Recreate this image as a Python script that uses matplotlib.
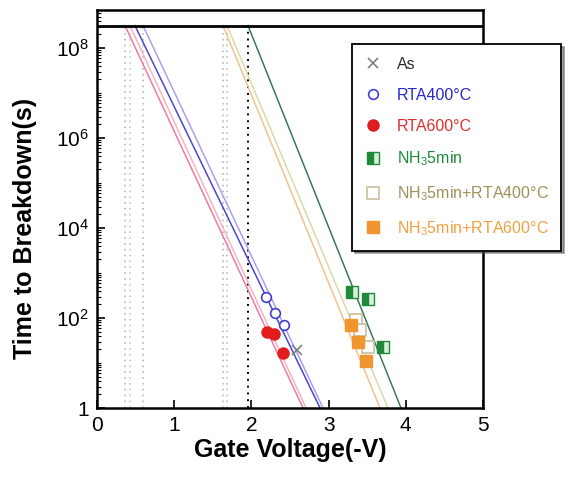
import matplotlib
matplotlib.use('Agg')
import matplotlib.pyplot as plt
import matplotlib.ticker as mticker
import numpy as np

plt.rcParams['font.family'] = ['Liberation Sans', 'DejaVu Sans']
plt.rcParams['mathtext.fontset'] = 'custom'
plt.rcParams['mathtext.rm'] = 'Liberation Sans'
plt.rcParams['mathtext.it'] = 'Liberation Sans'
plt.rcParams['mathtext.bf'] = 'Liberation Sans:bold'

# measured points (gate voltage -V, time to breakdown s)
as_v = [2.59]
as_t = [19]
rta400_v = [2.19, 2.31, 2.42]
rta400_t = [295, 129, 70]
rta600_v = [2.20, 2.29, 2.41]
rta600_t = [49, 44, 17]
nh3_v = [3.30, 3.51, 3.70]
nh3_t = [380, 265, 23]
nh3_400_v = [3.36, 3.41, 3.51]
nh3_400_t = [90, 55, 23]
nh3_600_v = [3.29, 3.38, 3.48]
nh3_600_t = [70, 29, 11]

# fit lines: voltage at 10 years and at 1 s
ten_years = 3.15e8
fit_names = ['RTA600', 'RTA600b', 'RTA400', 'As', 'NH3+600', 'NH3+400', 'NH3']
fit_v_10y = [0.363, 0.427, 0.492, 0.596, 1.632, 1.684, 1.956]
fit_v_1s = [2.668, 2.707, 2.889, 2.927, 3.666, 3.769, 3.938]
fit_colors = ['#f07aa0', '#f4b4c4', '#4848d0', '#a8a0f0', '#f5c090', '#dcd8a8', '#3a7a5a']
drop_colors = ['#b8b8b8', '#c8c8c8', None, '#b8b8b8', '#b8b8b8', '#c0c0c0', '#000000']

fig = plt.figure(figsize=(5.71, 4.79), dpi=100)
ax = fig.add_axes([97/571, 71/479, 386/571, 398/479])

# dotted drops from the 10 year line
for v, c in zip(fit_v_10y, drop_colors):
    if c is None:
        continue
    ax.vlines(v, 1, ten_years, colors=c, linestyles=(0, (1, 2.5)),
              linewidth=1.4 if c == '#000000' else 1.2, zorder=1)

for v0, v1, c in zip(fit_v_10y, fit_v_1s, fit_colors):
    ax.plot([v0, v1], [ten_years, 1], color=c, linewidth=1.1, zorder=2)

ax.axhline(ten_years, color='black', linewidth=2, zorder=3)

ax.plot(as_v, as_t, 'x', color='#808080', markersize=7, mew=1.2, label='As', zorder=4)
ax.plot(rta400_v, rta400_t, 'o', mfc='white', mec='#4040d0', markersize=7, mew=1.2,
        label='RTA400°C', zorder=4)
ax.plot(rta600_v, rta600_t, 'o', color='#e01c1c', markersize=8, label='RTA600°C', zorder=4)
ax.plot(nh3_v, nh3_t, 's', mfc='#1f8a3a', mfcalt='#d8f0d8', fillstyle='left', mec='#1f8a3a',
        markersize=8, label='NH$_3$5min', zorder=4)
ax.plot(nh3_400_v, nh3_400_t, 's', mfc='white', mec='#c8c0a0', markersize=8, mew=1.2,
        label='NH$_3$5min+RTA400°C', zorder=4)
ax.plot(nh3_600_v, nh3_600_t, 's', color='#f0962e', markersize=8,
        label='NH$_3$5min+RTA600°C', zorder=5)

ax.set_yscale('log')
ax.set_xlim(0, 5)
ax.set_ylim(1, 7e8)
ax.yaxis.set_major_locator(mticker.FixedLocator([1, 1e2, 1e4, 1e6, 1e8]))
ax.yaxis.set_major_formatter(mticker.FuncFormatter(
    lambda y, p: '1' if y == 1 else '$10^{%d}$' % round(np.log10(y))))
ax.yaxis.set_minor_locator(mticker.LogLocator(base=10, subs=np.arange(1, 10), numticks=50))
ax.yaxis.set_minor_formatter(mticker.NullFormatter())
ax.xaxis.set_major_locator(mticker.MultipleLocator(1))

ax.tick_params(which='major', direction='in', length=6, width=1.2, labelsize=15, pad=6)
ax.tick_params(which='minor', direction='in', length=3, width=0.8)
for s in ax.spines.values():
    s.set_linewidth(1.8)

ax.set_xlabel('Gate Voltage(-V)', fontsize=18, fontweight='bold', labelpad=2)
ax.set_ylabel('Time to Breakdown(s)', fontsize=18, fontweight='bold')
ax.yaxis.set_label_coords(-0.155, 0.45)

leg = ax.legend(loc='upper left', bbox_to_anchor=(352/571, 1 - 44/479),
                bbox_transform=fig.transFigure, fontsize=11.5, frameon=True,
                shadow=True, fancybox=False, handlelength=1.0, handletextpad=1.0,
                labelspacing=1.0, borderpad=0.8, borderaxespad=0)
leg.get_frame().set_edgecolor('black')
leg.get_frame().set_linewidth(1.3)
text_colors = ['#303030', '#2828c8', '#e03030', '#1f8a3a', '#a09058', '#f0a040']
for t, c in zip(leg.get_texts(), text_colors):
    t.set_color(c)
leg.set_zorder(10)

fig.savefig('out.png', dpi=100)
